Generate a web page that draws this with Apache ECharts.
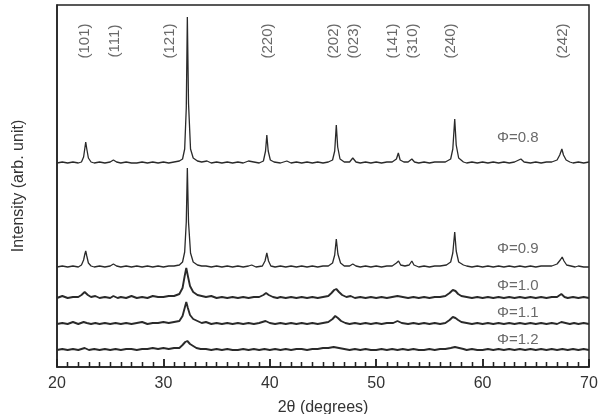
<!DOCTYPE html>
<html><head><meta charset="utf-8">
<script src="https://cdn.jsdelivr.net/npm/echarts@6/dist/echarts.min.js"></script>
<style>html,body{margin:0;padding:0;background:#fff}#c{width:599px;height:414px}</style>
</head><body><div id="c"></div>
<script>
// ---- data (intensity above each trace's own baseline, arb. unit) ----
const phiLabels = ["Φ=0.8","Φ=0.9","Φ=1.0","Φ=1.1","Φ=1.2"];
const offsets = [204, 100, 69, 43, 17];
const labelY = [229, 118, 81, 54, 27];
const phiLabelX = 63.3;
const hklLabels = ["(101)","(111)","(121)","(220)","(202)","(023)","(141)","(310)","(240)","(242)"];
const hklX = [22.6, 25.4, 30.6, 39.8, 46.0, 47.9, 51.6, 53.4, 57.0, 67.5];
const hklY = 326;

const t08 = [[20,0],[20.5,1],[21,0],[21.5,1],[22,0],[22.3,1],[22.5,6],[22.62,15],[22.7,21],[22.8,14],[22.95,5],[23.2,1],[23.5,0],[24,1],[24.5,0],[25,1],[25.3,3],[25.6,1],[26,0],[26.5,1],[27,0],[27.5,0],[28,1],[28.5,0],[29,1],[29.5,0],[30,1],[30.5,0],[31,1],[31.5,2],[31.8,4],[32.0,14],[32.15,55],[32.25,146],[32.36,60],[32.55,14],[32.8,5],[33.2,2],[33.6,1],[34.1,2],[34.5,0],[35,1],[35.5,0],[36,1],[36.5,0],[37,1],[37.5,0],[38,2],[38.5,1],[39,0],[39.4,2],[39.6,12],[39.72,28],[39.85,12],[40.05,3],[40.4,1],[41,0],[41.6,2],[42,0],[42.5,1],[43,0],[43.5,1],[44,0],[44.5,1],[45,0],[45.5,1],[45.9,3],[46.1,12],[46.25,38],[46.38,16],[46.6,4],[47,1],[47.5,1],[47.8,5],[48.1,1],[48.5,0],[49,1],[49.5,0],[50,1],[50.5,0],[51,1],[51.5,1],[51.9,4],[52.08,10],[52.25,3],[52.6,1],[53,1],[53.35,4],[53.6,1],[54,0],[54.5,1],[55,0],[55.5,1],[56,1],[56.5,1],[57,4],[57.2,14],[57.38,44],[57.52,18],[57.75,5],[58.2,1],[58.5,0],[59,1],[59.5,0],[60,1],[60.5,0],[61,1],[61.5,0],[62,1],[62.5,0],[63,1],[63.6,4],[63.9,1],[64.5,0],[65,1],[65.5,0],[66,1],[66.5,1],[67,3],[67.25,8],[67.45,14],[67.6,8],[67.85,3],[68.2,1],[68.5,0],[69,1],[69.5,0],[70,1]];
const t09 = [[20,0],[20.5,1],[21,0],[21.5,1],[22,0],[22.3,2],[22.5,7],[22.62,13],[22.7,16],[22.8,11],[22.95,4],[23.2,1],[23.5,0],[24,1],[24.5,0],[25,1],[25.3,3],[25.6,1],[26,0],[26.5,1],[27,0],[27.5,1],[28,0],[28.5,1],[29,0],[29.5,1],[30,0],[30.5,1],[31,1],[31.5,2],[31.8,5],[32.0,15],[32.15,45],[32.25,99],[32.36,45],[32.55,14],[32.8,5],[33.2,2],[33.6,1],[34,1],[34.5,0],[35,1],[35.5,0],[36,1],[36.5,0],[37,1],[37.5,0],[38,1],[38.3,2],[38.7,0],[39.3,1],[39.55,6],[39.72,14],[39.88,6],[40.1,1],[40.5,0],[41,1],[41.5,0],[42,1],[42.5,0],[43,1],[43.5,0],[44,1],[44.5,0],[45,1],[45.5,1],[45.9,4],[46.1,12],[46.25,28],[46.4,13],[46.65,4],[47,1],[47.5,1],[47.8,3],[48.1,1],[48.5,0],[49,1],[49.5,0],[50,1],[50.5,0],[51,1],[51.5,1],[51.9,4],[52.1,6],[52.3,2],[52.7,1],[53.1,2],[53.35,6],[53.55,2],[54,0],[54.5,1],[55,0],[55.5,1],[56,1],[56.6,2],[57,5],[57.2,14],[57.38,35],[57.52,16],[57.75,5],[58.2,2],[58.5,1],[59,0],[59.5,1],[60,0],[60.5,1],[61,0],[61.5,1],[62,0],[62.5,1],[63,0],[63.5,1],[64,0],[64.5,1],[65,0],[65.5,1],[66,1],[66.5,1],[67,3],[67.3,7],[67.48,10],[67.65,6],[67.9,2],[68.3,1],[68.7,0],[69,1],[69.5,0],[70,0]];
const t10 = [[20,0],[20.5,2],[21,0],[21.5,1],[22,1],[22.3,3],[22.6,6],[22.9,3],[23.2,1],[23.6,2],[24,0],[24.5,1],[25,0],[25.3,2],[25.7,0],[26,1],[26.5,0],[27,2],[27.5,0],[28,1],[28.5,0],[29,2],[29.5,1],[30,1],[30.5,2],[31,2],[31.5,4],[31.8,10],[32.0,22],[32.15,30],[32.3,22],[32.5,12],[32.8,6],[33.2,3],[33.6,2],[34,1],[34.5,2],[35,0],[35.5,1],[36,0],[36.5,1],[37,0],[37.5,1],[38,0],[38.5,1],[39,1],[39.4,3],[39.65,5],[39.9,3],[40.3,1],[40.7,0],[41,1],[41.5,0],[42,1],[42.5,0],[43,1],[43.5,0],[44,1],[44.5,0],[45,1],[45.5,2],[45.8,5],[46.05,8],[46.25,9],[46.5,6],[46.8,3],[47.2,1],[47.6,2],[48,0],[48.5,1],[49,0],[49.5,1],[50,0],[50.5,1],[51,0],[51.5,1],[52,2],[52.5,1],[53,0],[53.5,1],[54,0],[54.5,1],[55,0],[55.5,1],[56,1],[56.5,2],[56.9,5],[57.2,8],[57.45,7],[57.7,4],[58,2],[58.5,1],[59,0],[59.5,1],[60,0],[60.5,1],[61,0],[61.5,1],[62,0],[62.5,1],[63,0],[63.5,1],[64,0],[64.5,1],[65,0],[65.5,1],[66,0],[66.5,1],[67,1],[67.4,4],[67.7,1],[68,0],[68.5,1],[69,0],[69.5,1],[70,0]];
const t11 = [[20,0],[20.5,1],[21,0],[21.5,2],[22,0],[22.5,2],[22.8,1],[23.2,0],[23.6,1],[24,0],[24.5,1],[25,0],[25.5,1],[26,0],[26.5,1],[27,0],[27.5,1],[28,2],[28.5,0],[29,1],[29.5,1],[30,2],[30.5,1],[31,2],[31.5,3],[31.8,8],[32.0,16],[32.15,22],[32.3,16],[32.5,9],[32.8,5],[33.2,3],[33.6,1],[34,2],[34.5,0],[35,1],[35.5,0],[36,1],[36.5,0],[37,1],[37.5,0],[38,1],[38.5,0],[39,1],[39.6,3],[40,1],[40.5,0],[41,1],[41.5,0],[42,1],[42.5,0],[43,1],[43.5,0],[44,1],[44.5,0],[45,1],[45.5,2],[45.9,5],[46.15,8],[46.4,6],[46.7,3],[47.1,1],[47.5,0],[48,1],[48.5,0],[49,1],[49.5,0],[50,1],[50.5,0],[51,1],[51.6,1],[52,3],[52.4,1],[53,0],[53.5,1],[54,0],[54.5,1],[55,0],[55.5,1],[56,0],[56.5,1],[56.9,4],[57.2,7],[57.45,6],[57.7,4],[58,2],[58.5,1],[59,0],[59.5,1],[60,0],[60.5,1],[61,0],[61.5,1],[62,0],[62.5,1],[63,0],[63.5,1],[64,0],[64.5,1],[65,0],[65.5,1],[66,0],[66.5,1],[67,0],[67.4,2],[67.8,1],[68.2,0],[68.6,1],[69,0],[69.5,1],[70,0]];
const t12 = [[20,0],[20.5,1],[21,0],[21.5,1],[22,0],[22.6,2],[23,0],[23.5,1],[24,0],[24.5,1],[25,0],[25.5,1],[26,0],[26.5,1],[27,1],[27.5,0],[28,1],[28.5,1],[29,2],[29.5,1],[30,2],[30.5,1],[31,2],[31.5,2],[31.8,5],[32.05,8],[32.25,9],[32.5,6],[32.8,4],[33.1,2],[33.5,1],[34,1],[34.5,0],[35,1],[35.5,0],[36,1],[36.5,0],[37,0],[37.5,1],[38,0],[38.5,1],[39,0],[39.5,1],[40,0],[40.5,1],[41,0],[41.5,1],[42,0],[42.5,1],[43,1],[43.5,0],[44,1],[44.5,1],[45,2],[45.5,2],[46,3],[46.5,2],[47,1],[47.5,0],[48,1],[48.5,0],[49,1],[49.5,0],[50,0],[50.5,1],[51,0],[51.5,1],[52,0],[52.5,1],[53,0],[53.5,1],[54,0],[54.5,0],[55,1],[55.5,0],[56,1],[56.5,1],[57,2],[57.4,3],[57.8,2],[58.2,1],[58.5,0],[59,1],[59.5,0],[60,0],[60.5,1],[61,0],[61.5,1],[62,0],[62.5,1],[63,0],[63.5,1],[64,0],[64.5,1],[65,0],[65.5,1],[66,0],[66.5,1],[67,0],[67.5,1],[68,0],[68.5,1],[69,0],[69.5,1],[70,0]];
const traces = [t08, t09, t10, t11, t12];
const xTicks = [20, 30, 40, 50, 60, 70];

// ---- chart ----
const FONT = "Liberation Sans, Arial, sans-serif";
const widths = [1.3, 1.3, 1.9, 1.9, 1.9];
const series = traces.map((t, i) => ({
  type: 'line', showSymbol: false, symbol: 'none', animation: false,
  xAxisIndex: 0, yAxisIndex: 0,
  data: t.map(p => [p[0], p[1] + offsets[i]]),
  lineStyle: { color: '#2a2a2a', width: widths[i] }, z: 2
}));
series.push({
  type: 'scatter', symbolSize: 0, animation: false, silent: true,
  xAxisIndex: 0, yAxisIndex: 0,
  data: phiLabels.map((s, i) => ({ value: [phiLabelX, labelY[i]], name: s })),
  label: { show: true, position: 'inside', formatter: p => p.name, fontSize: 15, color: '#444', fontFamily: FONT }, z: 5
});
series.push({
  type: 'scatter', symbolSize: 0, animation: false, silent: true,
  xAxisIndex: 0, yAxisIndex: 0,
  data: hklLabels.map((s, i) => ({ value: [hklX[i], hklY], name: s })),
  label: { show: true, position: 'inside', rotate: 90, formatter: p => p.name, fontSize: 15, color: '#444', fontFamily: FONT }, z: 5
});

const axisBase = { type: 'value', min: xTicks[0], max: xTicks[xTicks.length - 1], interval: 10, splitLine: { show: false } };
const chart = echarts.init(document.getElementById('c'), null, { renderer: 'canvas' });
chart.setOption({
  animation: false,
  backgroundColor: '#fff',
  grid: { left: 57, right: 10, top: 5, bottom: 47, outerBoundsMode: 'none', show: true, borderColor: '#222', borderWidth: 1.5 },
  xAxis: [
    Object.assign({}, axisBase, {
      name: '2θ (degrees)', nameLocation: 'middle', nameGap: 33,
      nameTextStyle: { fontSize: 16, color: '#333', fontFamily: FONT },
      axisLine: { show: true, lineStyle: { color: '#222', width: 1.5 } },
      axisTick: { show: true, inside: true, length: 8, lineStyle: { color: '#222', width: 1.5 } },
      minorTick: { show: true, splitNumber: 10, length: 5, lineStyle: { color: '#222', width: 1.3 } },
      axisLabel: { fontSize: 16, color: '#333', margin: 9, fontFamily: FONT }
    }),
    Object.assign({}, axisBase, {
      position: 'bottom', offset: 0, z: 20,
      axisLine: { show: false },
      axisTick: { show: true, inside: true, length: 8, lineStyle: { color: '#222', width: 1.5 } },
      minorTick: { show: true, splitNumber: 10, length: 5, lineStyle: { color: '#222', width: 1.3 } },
      axisLabel: { show: false }
    })
  ],
  yAxis: {
    type: 'value', min: 0, max: 362,
    name: 'Intensity (arb. unit)', nameLocation: 'middle', nameGap: 30,
    nameTextStyle: { fontSize: 16, color: '#333', fontFamily: FONT },
    axisLine: { show: true, lineStyle: { color: '#222', width: 1.5 } },
    axisTick: { show: false }, axisLabel: { show: false }, splitLine: { show: false }
  },
  series: series
});
</script></body></html>
